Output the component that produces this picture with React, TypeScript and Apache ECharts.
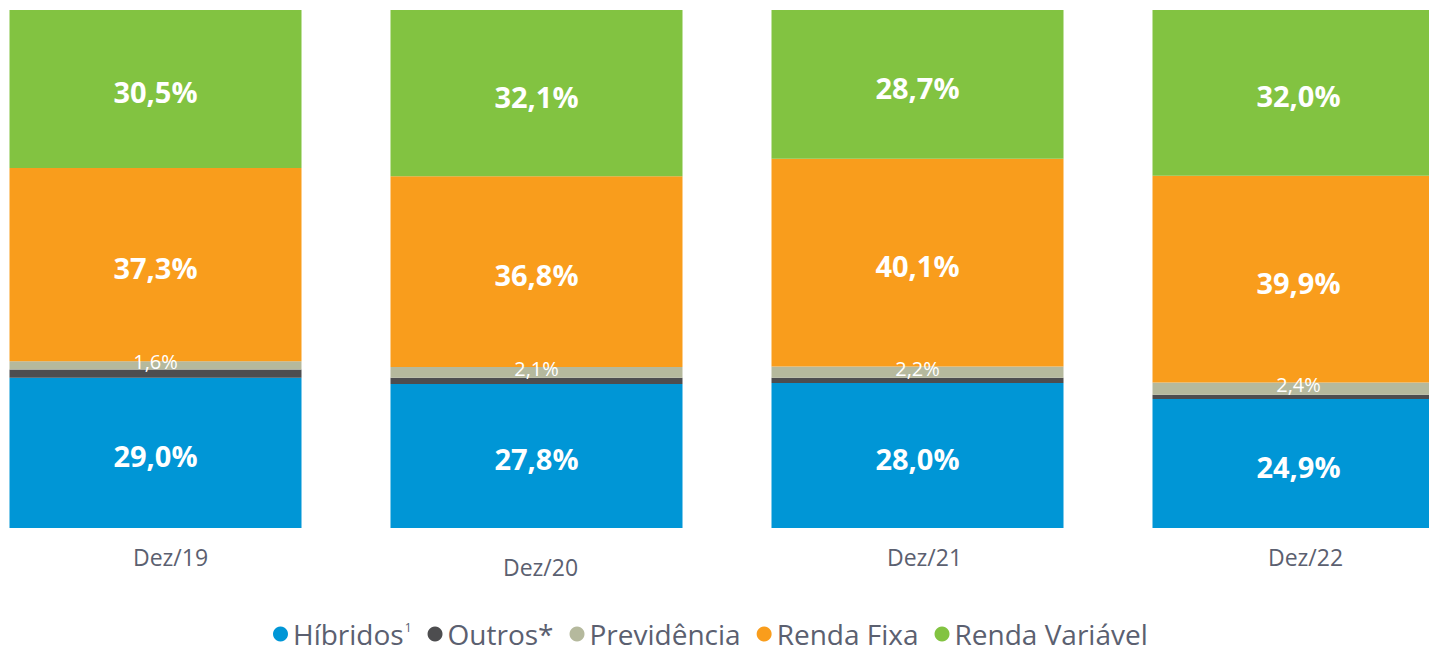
import React, { useEffect, useRef } from "react";
import * as echarts from "echarts";

const categories = ["Dez/19", "Dez/20", "Dez/21", "Dez/22"];
const hibridos = [29.0, 27.8, 28.0, 24.9];
const outros = [1.6, 1.2, 1.0, 0.8];
const previdencia = [1.6, 2.1, 2.2, 2.4];
const rendaFixa = [37.3, 36.8, 40.1, 39.9];
const rendaVariavel = [30.5, 32.1, 28.7, 32.0];

const seriesNames = ["Híbridos", "Outros*", "Previdência", "Renda Fixa", "Renda Variável"];
const colors = ["#0096D6", "#4D4D4F", "#B5B99D", "#F99D1C", "#82C341"];

const fmt = (v: number) => v.toFixed(1).replace(".", ",") + "%";

export default function App() {
  const ref = useRef<HTMLDivElement>(null);
  useEffect(() => {
    document.body.style.margin = "0";
    const chart = echarts.init(ref.current!, null, { renderer: "svg" });
    const bigLabel = {
      show: true,
      position: "inside",
      offset: [0, 3],
      color: "#ffffff",
      fontSize: 29,
      fontWeight: "bold",
      fontFamily: "Open Sans",
      formatter: (p: any) => fmt(p.value),
    };
    const dataSets = [hibridos, outros, previdencia, rendaFixa, rendaVariavel];
    const series = dataSets.map((d, i) => ({
      name: seriesNames[i],
      type: "bar",
      stack: "total",
      data: d,
      barWidth: 292,
      itemStyle: { color: colors[i] },
      label:
        i === 1
          ? { show: false }
          : i === 2
          ? {
              show: true,
              position: "inside",
              offset: [0, -4],
              color: "#ffffff",
              fontSize: 20,
              fontFamily: "Open Sans",
              formatter: (p: any) => fmt(p.value),
            }
          : bigLabel,
    }));
    const labelPads = [
      [0, 0, 0, 30],
      [10, 0, 0, 8],
      [0, 0, 0, 14],
      [0, 0, 0, 14],
    ];
    chart.setOption({
      animation: false,
      color: colors,
      grid: { left: 0, right: 0, top: 10, bottom: 124 },
      legend: {
        bottom: 4,
        left: 308,
        padding: 0,
        icon: "circle",
        itemWidth: 15,
        itemHeight: 15,
        itemGap: 16,
        textStyle: {
          color: "#5B6070",
          fontSize: 28,
          lineHeight: 26,
          fontFamily: "Open Sans",
          rich: { sup: { fontSize: 12, lineHeight: 26, verticalAlign: "top", color: "#5B6070", padding: [0, 0, 12, 1] } },
        },
        formatter: (name: string) => (name === "Híbridos" ? name + "{sup|1}" : name),
        data: seriesNames,
      },
      xAxis: {
        type: "category",
        data: categories.map((c, i) => ({ value: c, textStyle: { padding: labelPads[i] } })),
        axisLine: { show: false },
        axisTick: { show: false },
        axisLabel: {
          color: "#5B6070",
          fontSize: 23,
          fontFamily: "Open Sans",
          margin: 17,
        },
      },
      yAxis: {
        type: "value",
        min: 0,
        max: 100,
        show: false,
        splitLine: { show: false },
      },
      series,
    });
    return () => chart.dispose();
  }, []);
  return (
    <div style={{ width: 1429, height: 652, overflow: "hidden", position: "relative" }}>
      <div ref={ref} style={{ position: "absolute", left: -35, top: 0, width: 1524, height: 652 }} />
    </div>
  );
}
